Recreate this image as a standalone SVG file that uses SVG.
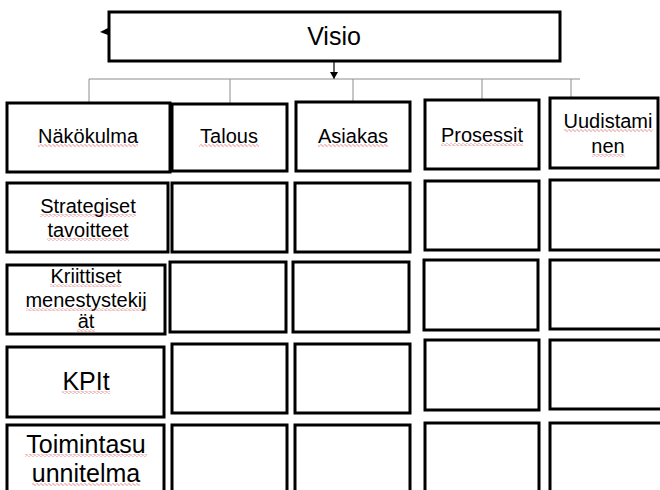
<svg xmlns="http://www.w3.org/2000/svg" width="660" height="490" viewBox="0 0 660 490">
<defs>
<style>
.box{fill:#fff;stroke:#000;stroke-width:3}
.t{font-family:"Liberation Sans",Arial,sans-serif;font-size:20px;text-anchor:middle;fill:#000}
.big{font-size:25px}
.conn{stroke:#8c8c8c;stroke-width:1;fill:none}
.sq{fill:url(#squig)}
</style>
<pattern id="squig" patternUnits="userSpaceOnUse" width="4" height="3">
<polyline points="0,1.5 1,0.5 3,2.5 4,1.5" fill="none" stroke="#e06060" stroke-width="0.8"/>
</pattern>
<marker id="arr" markerUnits="userSpaceOnUse" markerWidth="8" markerHeight="8" refX="7" refY="4" orient="auto">
<path d="M0,0 L7,4 L0,8 Z" fill="#000"/>
</marker>
</defs>
<rect width="660" height="490" fill="#fff"/>

<g id="connectors">
<line x1="334" y1="61" x2="334" y2="79" stroke="#000" stroke-width="1.2" marker-end="url(#arr)"/>
<polyline class="conn" points="89,103 89,79 580,79"/>
<line class="conn" x1="230" y1="79" x2="230" y2="104"/>
<line class="conn" x1="353" y1="79" x2="353" y2="102"/>
<line class="conn" x1="482" y1="79" x2="482" y2="100"/>
<line class="conn" x1="571" y1="79" x2="571" y2="98"/>
<polygon points="100,32 108,28 108,35" fill="#000"/>
</g>

<g id="visio">
<rect class="box" x="109" y="12" width="451" height="49"/>
<text class="t big" x="334" y="45">Visio</text>
</g>

<g id="nakokulma">
<rect class="box" x="7" y="103" width="163" height="69"/>
<text class="t" x="88" y="143">Näkökulma</text>
<rect class="sq" x="38" y="144" width="100" height="3"/>
</g>
<g id="talous">
<rect class="box" x="172" y="104" width="115" height="67"/>
<text class="t" x="229" y="143">Talous</text>
<rect class="sq" x="199" y="144" width="60" height="3"/>
</g>
<g id="asiakas">
<rect class="box" x="296" y="102" width="114" height="69"/>
<text class="t" x="353" y="143">Asiakas</text>
<rect class="sq" x="318" y="144" width="70" height="3"/>
</g>
<g id="prosessit">
<rect class="box" x="425" y="100" width="114" height="69"/>
<text class="t" x="482" y="142">Prosessit</text>
<rect class="sq" x="441" y="143" width="82" height="3"/>
</g>
<g id="uudistaminen">
<rect class="box" x="550" y="98" width="108" height="70"/>
<text class="t" x="608" y="128">Uudistami</text>
<text class="t" x="608" y="153">nen</text>
<rect class="sq" x="564" y="129" width="89" height="3"/>
<rect class="sq" x="592" y="154" width="33" height="3"/>
</g>

<g id="strategiset">
<rect class="box" x="7" y="183" width="161" height="69"/>
<text class="t" x="88" y="213">Strategiset</text>
<text class="t" x="88" y="237">tavoitteet</text>
<rect class="sq" x="40" y="214" width="96" height="3"/>
<rect class="sq" x="47" y="238" width="82" height="3"/>
</g>
<g id="talous-2"><rect class="box" x="172" y="183" width="115" height="69"/></g>
<g id="asiakas-2"><rect class="box" x="295" y="183" width="115" height="69"/></g>
<g id="prosessit-2"><rect class="box" x="425" y="181" width="114" height="69"/></g>
<g id="uudistaminen-2"><rect class="box" x="550" y="180" width="120" height="70"/></g>

<g id="kriittiset">
<rect class="box" x="7" y="265" width="158" height="69"/>
<text class="t" x="86" y="283">Kriittiset</text>
<text class="t" x="86" y="307">menestystekij</text>
<text class="t" x="86" y="328">ät</text>
<rect class="sq" x="50" y="284" width="71" height="3"/>
<rect class="sq" x="26" y="308" width="121" height="3"/>
<rect class="sq" x="77" y="329" width="18" height="3"/>
</g>
<g id="talous-3"><rect class="box" x="170" y="262" width="116" height="70"/></g>
<g id="asiakas-3"><rect class="box" x="293" y="262" width="116" height="70"/></g>
<g id="prosessit-3"><rect class="box" x="424" y="260" width="114" height="70"/></g>
<g id="uudistaminen-3"><rect class="box" x="550" y="260" width="120" height="69"/></g>

<g id="kpit">
<rect class="box" x="7" y="347" width="157" height="70"/>
<text class="t big" x="86" y="390">KPIt</text>
<rect class="sq" x="62" y="391" width="48" height="3"/>
</g>
<g id="talous-4"><rect class="box" x="172" y="344" width="115" height="69"/></g>
<g id="asiakas-4"><rect class="box" x="295" y="344" width="115" height="69"/></g>
<g id="prosessit-4"><rect class="box" x="425" y="340" width="114" height="70"/></g>
<g id="uudistaminen-4"><rect class="box" x="550" y="340" width="120" height="69"/></g>

<g id="toimintasuunnitelma">
<rect class="box" x="7" y="425" width="157" height="80"/>
<text class="t big" x="86" y="453">Toimintasu</text>
<text class="t big" x="86" y="482">unnitelma</text>
<rect class="sq" x="25" y="454" width="122" height="3"/>
<rect class="sq" x="32" y="483" width="108" height="3"/>
</g>
<g id="talous-5"><rect class="box" x="172" y="425" width="115" height="80"/></g>
<g id="asiakas-5"><rect class="box" x="295" y="425" width="115" height="80"/></g>
<g id="prosessit-5"><rect class="box" x="425" y="423" width="114" height="82"/></g>
<g id="uudistaminen-5"><rect class="box" x="550" y="423" width="120" height="82"/></g>
</svg>
